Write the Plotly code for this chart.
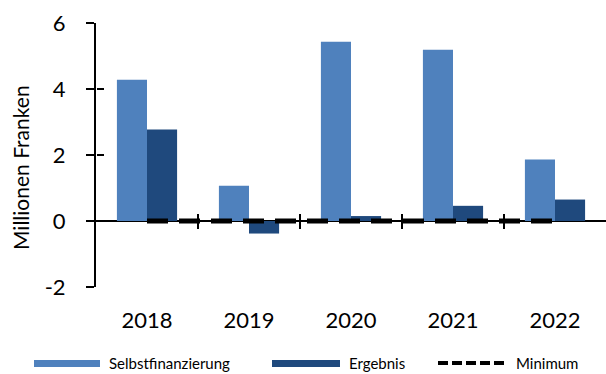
import plotly.graph_objects as go

# Data (Mio. CHF)
jahre = ["2018", "2019", "2020", "2021", "2022"]
selbstfinanzierung = [4.28, 1.07, 5.43, 5.19, 1.86]
ergebnis = [2.77, -0.38, 0.15, 0.46, 0.65]
minimum = [0, 0, 0, 0, 0]
y_ticks = [-2, 0, 2, 4, 6]
y_ticktext = ["-2", "0", "2", "4", "6"]

C_SELBST = "#4F81BD"
C_ERGEB = "#1F497D"
FONT = "Lato"

W, H = 606, 374
ML, MR, MT, MB = 96, 0, 23, 87
PW, PH = W - ML - MR, H - MT - MB

pos = list(range(len(jahre)))
boundaries = [p + 0.5 for p in pos[:-1]]


def px_x(px):
    return (px - ML) / PW


def px_y(py):
    return (H - MB - py) / PH


fig = go.Figure()
fig.add_trace(go.Bar(x=pos, y=selbstfinanzierung, name="Selbstfinanzierung",
                     marker=dict(color=C_SELBST, line=dict(width=0)), showlegend=False))
fig.add_trace(go.Bar(x=pos, y=ergebnis, name="Ergebnis",
                     marker=dict(color=C_ERGEB, line=dict(width=0)), showlegend=False))
fig.add_trace(go.Scatter(x=pos, y=minimum, name="Minimum", mode="lines",
                         line=dict(color="black", width=5, dash="21px,11px"),
                         showlegend=False))

# empty helper traces so the tick-only overlay axes are rendered
for xa, ya in [("x2", "y"), ("x3", "y"), ("x", "y2")]:
    fig.add_trace(go.Scatter(x=[], y=[], xaxis=xa, yaxis=ya, mode="lines",
                             showlegend=False, hoverinfo="skip"))

axis_common = dict(range=[-0.5, len(jahre) - 0.5], showgrid=False, zeroline=False)

fig.update_layout(
    width=W, height=H,
    margin=dict(l=ML, r=MR, t=MT, b=MB, pad=0),
    paper_bgcolor="white", plot_bgcolor="white",
    barmode="group", bargap=0.41, bargroupgap=0,
    font=dict(family=FONT, color="black"),
    xaxis=dict(**axis_common, tickmode="array", tickvals=pos, ticktext=jahre,
               ticks="", showline=False, tickfont=dict(size=22, family=FONT),
               ticklabelstandoff=18),
    # category separators crossing the zero line
    xaxis2=dict(**axis_common, overlaying="x", anchor="free", position=0.25,
                tickmode="array", tickvals=boundaries, ticks="outside",
                ticklen=7, tickwidth=2, tickcolor="black",
                showticklabels=False, showline=False),
    xaxis3=dict(**axis_common, overlaying="x", anchor="free", position=0.25,
                tickmode="array", tickvals=boundaries, ticks="inside",
                ticklen=7, tickwidth=2, tickcolor="black",
                showticklabels=False, showline=False),
    yaxis=dict(range=[-2, 6], tickmode="array", tickvals=y_ticks, ticktext=y_ticktext,
               showgrid=False, zeroline=True, zerolinecolor="black", zerolinewidth=2,
               showline=True, linecolor="black", linewidth=2,
               ticks="outside", ticklen=8, tickwidth=2, tickcolor="black",
               tickfont=dict(size=22, family=FONT), ticklabelstandoff=16),
    yaxis2=dict(range=[-2, 6], overlaying="y", anchor="free", position=0, side="left",
                tickmode="array", tickvals=y_ticks, ticks="inside", ticklen=7,
                tickwidth=2, tickcolor="black", showticklabels=False,
                showgrid=False, zeroline=False, showline=False),
)

# y-axis title
fig.add_annotation(text="Millionen Franken", xref="paper", yref="paper",
                   x=px_x(20), y=px_y(168), textangle=-90,
                   xanchor="center", yanchor="middle", showarrow=False,
                   font=dict(size=21, family=FONT, color="black"))

# Legend drawn below the plot
leg_y0, leg_y1 = px_y(360), px_y(367)
leg_text_y = px_y(363)
fig.add_shape(type="rect", xref="paper", yref="paper",
              x0=px_x(34), x1=px_x(100), y0=leg_y0, y1=leg_y1,
              fillcolor=C_SELBST, line=dict(width=0))
fig.add_shape(type="rect", xref="paper", yref="paper",
              x0=px_x(272), x1=px_x(340), y0=leg_y0, y1=leg_y1,
              fillcolor=C_ERGEB, line=dict(width=0))
fig.add_shape(type="line", xref="paper", yref="paper",
              x0=px_x(438), x1=px_x(508), y0=leg_text_y, y1=leg_text_y,
              line=dict(color="black", width=4, dash="10px,4px"))
for label, xpx in [("Selbstfinanzierung", 107), ("Ergebnis", 347), ("Minimum", 514)]:
    fig.add_annotation(text=label, xref="paper", yref="paper",
                       x=px_x(xpx), y=leg_text_y, xanchor="left", yanchor="middle",
                       showarrow=False, font=dict(size=15, family=FONT, color="black"))

fig.write_html("out.html")
